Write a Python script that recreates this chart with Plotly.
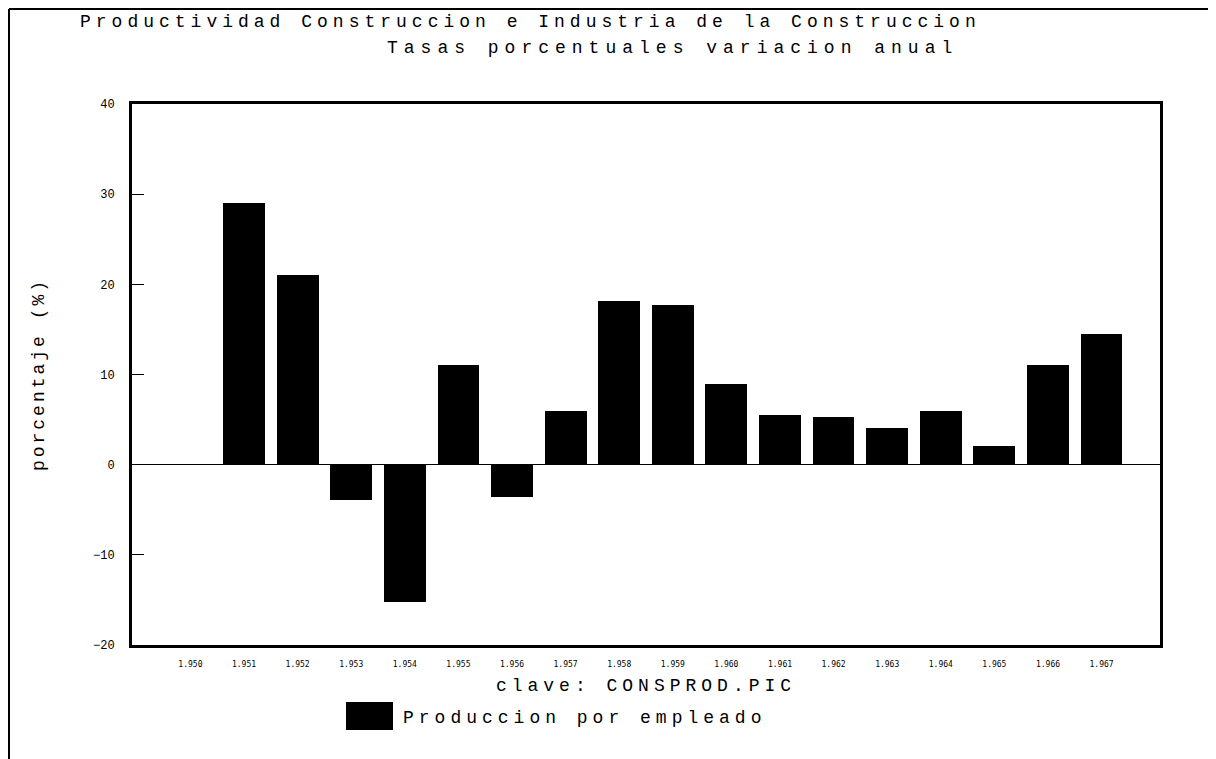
import plotly.graph_objects as go

years = list(range(1950, 1968))
year_labels = ["1.950", "1.951", "1.952", "1.953", "1.954", "1.955", "1.956", "1.957", "1.958",
               "1.959", "1.960", "1.961", "1.962", "1.963", "1.964", "1.965", "1.966", "1.967"]
prod_empleado = [0, 29.0, 21.0, -3.9, -15.2, 11.1, -3.6, 5.9, 18.1,
                 17.7, 9.0, 5.5, 5.25, 4.1, 6.0, 2.1, 11.0, 14.5]

MONO = "Liberation Mono, DejaVu Sans Mono, monospace"


def spaced(text, px):
    return f'<span style="letter-spacing:{px}px">{text}</span>'


# page pixel -> paper coords (plot area spans x 132..1160, y 104..645 on the page)
def px(x):
    return (x - 132) / 1028


def py(y):
    return (645 - y) / 541


fig = go.Figure(go.Bar(
    x=years,
    y=prod_empleado,
    width=0.78,
    marker_color="#000000",
    marker_line_width=0,
    showlegend=False,
))

# the page body has an 8px margin, so the figure is shrunk to fit the window
fig.update_layout(
    width=1208,
    height=751,
    margin=dict(l=124, r=56, t=96, b=114),
    paper_bgcolor="white",
    plot_bgcolor="white",
    font=dict(family=MONO, color="black"),
    bargap=0,
)

fig.update_xaxes(
    range=[1948.91, 1968.09],
    tickvals=years,
    ticktext=year_labels,
    tickfont=dict(size=8, family="DejaVu Sans Mono"),
    ticks="",
    ticklabelstandoff=9,
    showline=True, linecolor="black", linewidth=3, mirror=True,
    showgrid=False,
    title=dict(text=spaced("clave: CONSPROD.PIC", 5), font=dict(size=18), standoff=11),
)
fig.update_yaxes(
    range=[-20, 40],
    dtick=10,
    ticks="inside", ticklen=12, tickcolor="black", tickwidth=1,
    tickfont=dict(size=12),
    ticklabelstandoff=12,
    showline=True, linecolor="black", linewidth=3, mirror=True,
    showgrid=False,
    zeroline=True, zerolinecolor="black", zerolinewidth=1,
    title=dict(text=spaced("porcentaje (%)", 3), font=dict(size=18), standoff=44),
)

# titles
fig.add_annotation(text=spaced("Productividad Construccion e Industria de la Construccion", 5),
                   xref="paper", yref="paper", x=px(78), y=py(22),
                   xanchor="left", yanchor="middle", showarrow=False, font=dict(size=18))
fig.add_annotation(text=spaced("Tasas porcentuales variacion anual", 6),
                   xref="paper", yref="paper", x=px(385), y=py(48),
                   xanchor="left", yanchor="middle", showarrow=False, font=dict(size=18))

# legend swatch and label
fig.add_shape(type="rect", xref="paper", yref="paper",
              x0=px(346), x1=px(393), y0=py(730), y1=py(702),
              fillcolor="black", line_width=0)
fig.add_annotation(text=spaced("Produccion por empleado", 5),
                   xref="paper", yref="paper", x=px(401), y=py(718),
                   xanchor="left", yanchor="middle", showarrow=False, font=dict(size=18))

# outer frame of the page
frame = dict(xref="paper", yref="paper", line=dict(color="black", width=2))
fig.add_shape(type="line", x0=px(9), x1=px(9), y0=py(759), y1=py(9), **frame)
fig.add_shape(type="line", x0=px(9), x1=px(1214), y0=py(9), y1=py(9), **frame)
fig.add_shape(type="line", x0=px(1214), x1=px(1214), y0=py(700), y1=py(9), **frame)

fig.write_html("out.html")
